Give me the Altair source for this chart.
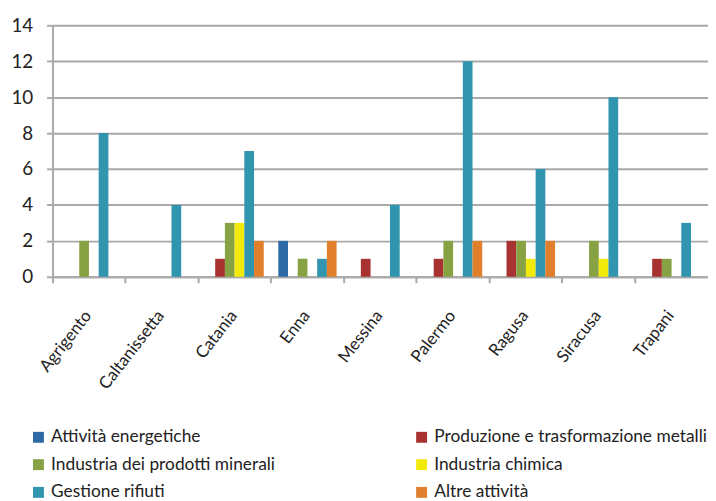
import altair as alt
import pandas as pd

categories = ["Agrigento", "Caltanissetta", "Catania", "Enna", "Messina",
              "Palermo", "Ragusa", "Siracusa", "Trapani"]
series = ["Attività energetiche", "Produzione e trasformazione metalli",
          "Industria dei prodotti minerali", "Industria chimica",
          "Gestione rifiuti", "Altre attività"]
colors = ["#2D6AA5", "#A83230", "#87A242", "#F2EA0A", "#3195AF", "#E07F2C"]

attivita_energetiche = [0, 0, 0, 2, 0, 0, 0, 0, 0]
produzione_metalli   = [0, 0, 1, 0, 1, 1, 2, 0, 1]
prodotti_minerali    = [2, 0, 3, 1, 0, 2, 2, 2, 1]
industria_chimica    = [0, 0, 3, 0, 0, 0, 1, 1, 0]
gestione_rifiuti     = [8, 4, 7, 1, 4, 12, 6, 10, 3]
altre_attivita       = [0, 0, 2, 2, 0, 2, 2, 0, 0]

values = [attivita_energetiche, produzione_metalli, prodotti_minerali,
          industria_chimica, gestione_rifiuti, altre_attivita]

rows = []
for s, vals in zip(series, values):
    for c, v in zip(categories, vals):
        rows.append({"Provincia": c, "Settore": s, "Valore": v})
df = pd.DataFrame(rows)

FONT = "Lato"
GRID = "#A9A9A9"
TXT = "#222222"

chart = alt.Chart(df).mark_bar().encode(
    x=alt.X("Provincia:N", sort=categories,
            scale=alt.Scale(paddingInner=0, paddingOuter=0),
            axis=alt.Axis(title=None, bandPosition=0, ticks=True,
                          tickSize=6, tickColor=GRID, tickWidth=2,
                          domainColor=GRID, domainWidth=2, grid=False,
                          labelAngle=-52, labelAlign="right", labelBaseline="top",
                          labelOffset=-7, labelPadding=25, labelOverlap=False,
                          labelFont=FONT, labelFontSize=17, labelColor=TXT,
                          labelBound=False)),
    xOffset=alt.XOffset("Settore:N", sort=series,
                        scale=alt.Scale(paddingInner=0, paddingOuter=0.75)),
    y=alt.Y("Valore:Q", scale=alt.Scale(domain=[0, 14], nice=False),
            axis=alt.Axis(title=None, values=[0, 2, 4, 6, 8, 10, 12, 14],
                          grid=True, gridColor=GRID, gridWidth=2,
                          domainColor=GRID, domainWidth=2,
                          tickColor=GRID, tickWidth=2, tickSize=6,
                          labelFont=FONT, labelFontSize=19, labelColor=TXT,
                          labelPadding=14)),
    color=alt.Color("Settore:N", sort=series,
                    scale=alt.Scale(domain=series, range=colors),
                    legend=alt.Legend(title=None, orient="none", direction="horizontal",
                                      columns=2, legendX=-23, legendY=407,
                                      symbolType="square", symbolSize=121,
                                      symbolStrokeWidth=0,
                                      labelFont=FONT, labelFontSize=17.5,
                                      labelColor=TXT, labelOffset=4,
                                      columnPadding=139, rowPadding=9,
                                      labelLimit=400)),
).properties(
    width=662, height=254,
    autosize=alt.AutoSizeParams(type="none"),
    padding={"left": 45, "top": 15, "right": 0, "bottom": 223},
).configure_view(stroke=None)

chart.save("out.html", embed_options={"renderer": "svg", "actions": False})
